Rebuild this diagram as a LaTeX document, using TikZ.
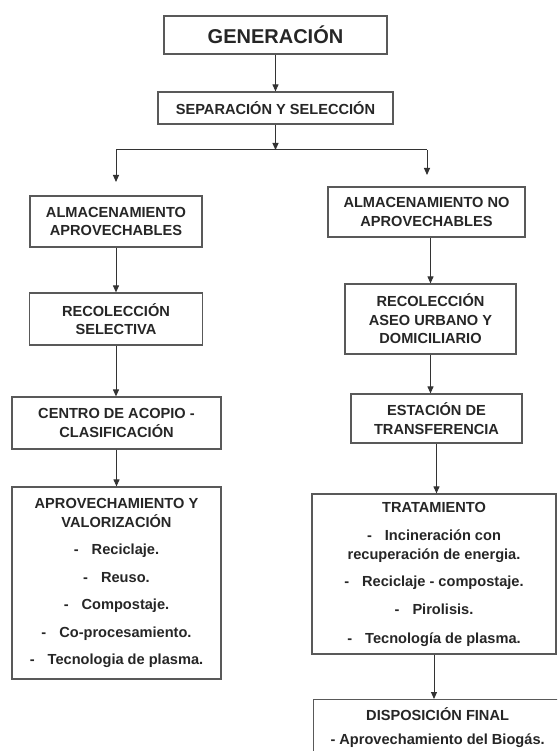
\documentclass[tikz,border=0pt]{standalone}
\usepackage{fontspec}
\setmainfont{Liberation Sans}
\usetikzlibrary{arrows.meta}
\tikzset{
  box/.style={draw=black!65, line width=1.2pt, fill=white, align=center, inner sep=0pt,
    text=black!85, font=\bfseries\fontsize{14.6}{18.5}\selectfont},
  bigbox/.style={box, font=\bfseries\fontsize{20}{24}\selectfont},
  conn/.style={draw=black!80, line width=1pt},
  arr/.style={conn, -{Triangle[length=7pt,width=6pt]}}
}
\newcommand{\itm}[1]{-\hspace{13pt}#1}
\begin{document}
\begin{tikzpicture}[x=1pt,y=-1pt]
\useasboundingbox (0,0) rectangle (557,751);
\clip (0,0) rectangle (557,751);
\fill[white] (0,0) rectangle (557,751);

\node[bigbox, minimum width=223pt, minimum height=38pt] (gen) at (275.5,35) {GENERACIÓN};
\node[box, minimum width=235pt, minimum height=32pt] (sep) at (275.5,108) {SEPARACIÓN Y SELECCIÓN};

\coordinate (hm) at (275.5,150);
\coordinate (hl) at (116,150);
\coordinate (hr) at (427,150);
\coordinate (el) at (116,182);
\coordinate (er) at (427,175);

% left column
\node[box, minimum width=172pt, minimum height=51pt] (alm1) at (116,221.5) {ALMACENAMIENTO\\APROVECHABLES};
\node[box, minimum width=173pt, minimum height=52pt] (rec1) at (116,319) {RECOLECCIÓN\\SELECTIVA};
\node[box, minimum width=209pt, minimum height=52pt] (centro) at (116.5,423) {CENTRO DE ACOPIO -\\CLASIFICACIÓN};
\node[box, minimum width=209pt, minimum height=192pt] (aprov) at (116.5,583)
  {APROVECHAMIENTO Y\\VALORIZACIÓN\\[9pt]
   \itm{Reciclaje.}\\[9pt]
   \itm{Reuso.}\\[9pt]
   \itm{Compostaje.}\\[9pt]
   \itm{Co-procesamiento.}\\[9pt]
   \itm{Tecnologia de plasma.}};

% right column
\node[box, minimum width=197pt, minimum height=50pt] (almno) at (426.5,212) {ALMACENAMIENTO NO\\APROVECHABLES};
\node[box, minimum width=171pt, minimum height=70pt] (recaseo) at (430.5,319) {RECOLECCIÓN\\ASEO URBANO Y\\DOMICILIARIO};
\node[box, minimum width=171pt, minimum height=49pt] (estacion) at (436.5,418.5) {ESTACIÓN DE\\TRANSFERENCIA};
\node[box, minimum width=244pt, minimum height=160pt] (trat) at (434,574)
  {TRATAMIENTO\\[10pt]
   \itm{Incineración con}\\[0.5pt]
   recuperación de energia.\\[8pt]
   \itm{Reciclaje - compostaje.}\\[10pt]
   \itm{Pirolisis.}\\[10pt]
   \itm{Tecnología de plasma.}};
\node[box, minimum width=248pt, minimum height=56pt, anchor=north west] (disp) at (313,699)
  {DISPOSICIÓN FINAL\\[5pt]- Aprovechamiento del Biogás.};

% connectors
\draw[arr] (gen.south) -- (gen.south |- sep.north);
\draw[arr] (sep.south) -- (hm);
\draw[conn] (hl) -- (hr);
\draw[arr] (hl) -- (el);
\draw[arr] (hr) -- (er);

\draw[arr] (alm1.south) -- (rec1.north);
\draw[arr] (rec1.south) -- (rec1.south |- centro.north);
\draw[arr] (centro.south) -- (aprov.north);

\draw[arr] (almno.south -| recaseo.south) -- (recaseo.north);
\draw[arr] (recaseo.south) -- (recaseo.south |- estacion.north);
\draw[arr] (estacion.south) -- (estacion.south |- trat.north);
\draw[arr] (trat.south) -- (trat.south |- disp.north);
\end{tikzpicture}
\end{document}
